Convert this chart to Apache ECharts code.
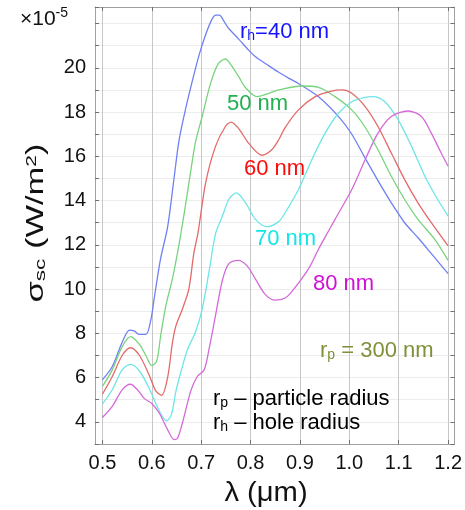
<!DOCTYPE html>
<html><head><meta charset="utf-8">
<script src="https://cdn.jsdelivr.net/npm/echarts@6/dist/echarts.min.js"></script>
<style>html,body{margin:0;padding:0;background:#fff}#c{width:465px;height:510px}</style>
</head><body><div id="c"></div>
<script>
// wavelength (um) and scattering values (x1e-5 W/m^2)
const lam40 = [0.50,0.52,0.54,0.555,0.565,0.575,0.588,0.598,0.605,0.618,0.632,0.645,0.655,0.668,0.682,0.696,0.709,0.722,0.73,0.737,0.745,0.755,0.776,0.796,0.81,0.83,0.857,0.88,0.90,0.94,0.98,1.005,1.03,1.058,1.085,1.112,1.14,1.17,1.20];
const val40 = [5.9,6.5,7.6,8.15,8.1,7.95,7.95,8.6,9.6,11.4,12.8,15.0,16.7,18.1,19.4,20.6,21.5,22.2,22.38,22.38,22.15,21.8,21.3,20.8,20.5,20.2,19.8,19.5,19.25,18.65,17.75,17.0,16.0,14.9,13.9,13.0,12.3,11.5,10.7];
const lam50 = [0.50,0.52,0.54,0.557,0.575,0.588,0.60,0.61,0.618,0.628,0.642,0.655,0.669,0.682,0.689,0.702,0.719,0.735,0.749,0.76,0.776,0.79,0.813,0.837,0.857,0.904,0.9375,0.971,1.005,1.031,1.058,1.085,1.112,1.139,1.173,1.20];
const val50 = [5.6,6.35,7.4,7.85,7.5,7.0,6.55,6.75,7.9,9.2,10.5,12.0,13.9,15.8,16.7,17.8,19.3,20.2,20.4,20.15,19.6,19.1,18.7,18.85,19.0,19.18,19.12,18.7,18.1,17.35,16.3,15.1,14.05,13.15,12.25,11.3];
const lam60 = [0.50,0.52,0.54,0.557,0.575,0.595,0.608,0.62,0.632,0.642,0.649,0.662,0.675,0.685,0.694,0.709,0.729,0.749,0.761,0.776,0.796,0.823,0.843,0.857,0.87,0.897,0.931,0.964,0.985,1.005,1.032,1.058,1.085,1.112,1.139,1.166,1.20];
const val60 = [5.25,6.05,7.0,7.35,7.0,6.1,5.4,5.2,6.0,7.6,8.35,9.1,10.0,11.6,12.6,14.8,16.45,17.35,17.55,17.25,16.6,16.05,16.3,16.75,17.3,18.1,18.7,18.95,19.0,18.85,18.25,17.35,16.15,14.95,13.9,13.0,11.95];
const lam70 = [0.50,0.52,0.54,0.557,0.575,0.595,0.615,0.63,0.64,0.649,0.662,0.672,0.689,0.702,0.716,0.729,0.743,0.756,0.771,0.79,0.81,0.833,0.857,0.87,0.897,0.924,0.951,0.978,1.005,1.032,1.048,1.072,1.099,1.126,1.153,1.179,1.20];
const val70 = [4.8,5.45,6.35,6.6,6.3,5.5,4.5,4.05,4.35,5.4,6.5,7.25,8.1,9.1,10.8,12.5,13.3,14.05,14.35,13.9,13.15,12.82,13.05,13.45,14.5,15.85,17.05,17.95,18.47,18.67,18.7,18.47,17.65,16.45,15.1,14.05,13.3];
const lam80 = [0.50,0.52,0.54,0.557,0.571,0.585,0.60,0.615,0.632,0.645,0.652,0.662,0.679,0.692,0.706,0.716,0.729,0.743,0.756,0.775,0.793,0.81,0.83,0.85,0.87,0.884,0.917,0.9375,0.951,0.971,1.005,1.032,1.058,1.085,1.119,1.146,1.166,1.186,1.20];
const val80 = [4.2,4.7,5.45,5.7,5.45,5.05,4.83,4.4,3.65,3.2,3.25,3.95,5.4,6.05,6.35,7.3,8.8,10.4,11.15,11.3,11.05,10.45,9.75,9.5,9.6,9.9,10.9,11.8,12.35,13.15,14.5,15.85,17.05,17.8,18.05,17.8,17.05,16.15,15.55];
const xTicks = [0.5,0.6,0.7,0.8,0.9,1.0,1.1,1.2];
const xTickLabels = ['0.5','0.6','0.7','0.8','0.9','1.0','1.1','1.2'];
const yLabelValues = [4,6,8,10,12,14,16,18,20];

const FONT = '"Liberation Sans", Arial, sans-serif';
const lineColors = ['#6f80f2','#78d47c','#e36a6a','#6ee6e6','#d46ad8'];
function pairs(xs, ys){ return xs.map((x,i)=>[x, ys[i]]); }
const sets = [[lam40,val40],[lam50,val50],[lam60,val60],[lam70,val70],[lam80,val80]];

const chart = echarts.init(document.getElementById('c'), null, {renderer:'canvas'});
const xCommon = {
  type:'value', min:0.485, max:1.213,
  axisTick:{inside:true, length:4, lineStyle:{color:'#707070'}, customValues:xTicks},
  axisLine:{show:true, lineStyle:{color:'#a0a0a0', width:1}},
};
const yCommon = {
  type:'value', min:3, max:22.75, interval:1,
  axisTick:{inside:true, length:4, lineStyle:{color:'#707070'}},
  axisLine:{show:true, lineStyle:{color:'#a0a0a0', width:1}},
};
function sub(t){ return '{s|'+t+'}'; }
function annot(x, y, text, color, size){
  return {type:'text', left:x, top:y, z:100, style:{
    text:text, fill:color, font: size+'px '+FONT,
    rich:{ s:{fontSize:Math.round(size*0.62), fontFamily:FONT, fill:color, verticalAlign:'bottom', lineHeight:10},
           n:{fontSize:size, fontFamily:FONT, fill:color, lineHeight:size} }
  }};
}
const option = {
  animation:false,
  grid:{left:95, right:8, top:7, bottom:66},
  xAxis:[
    Object.assign({}, xCommon, {position:'bottom',
      axisLabel:{customValues:xTicks, margin:9, color:'#111', fontSize:20, fontFamily:FONT,
        formatter:(v)=>{const i=xTicks.findIndex(t=>Math.abs(t-v)<1e-6); return i>=0?xTickLabels[i]:'';}},
      splitLine:{show:true, lineStyle:{color:'#c6c6c6', width:1}}}),
    Object.assign({}, xCommon, {position:'top', axisLabel:{show:false}, splitLine:{show:false}})
  ],
  yAxis:[
    Object.assign({}, yCommon, {position:'left',
      axisLabel:{margin:9, color:'#111', fontSize:20, fontFamily:FONT,
        formatter:(v)=> yLabelValues.indexOf(Math.round(v))>=0 && Math.abs(v-Math.round(v))<1e-6 ? String(Math.round(v)) : ''},
      splitLine:{show:true, lineStyle:{color:'#ececec', width:1}}}),
    Object.assign({}, yCommon, {position:'right', axisLabel:{show:false}, splitLine:{show:false}})
  ],
  series: sets.map((s,i)=>({type:'line', data:pairs(s[0],s[1]), showSymbol:false, smooth:0.3,
    lineStyle:{color:lineColors[i], width:1.3}, z:10+i})),
  graphic:[
    annot(240, 21, '{n|r}'+sub('h')+'{n|=40 nm}', '#1414ff', 22),
    annot(227, 93, '{n|50 nm}', '#22b050', 22),
    annot(244, 158, '{n|60 nm}', '#ff0a0a', 22),
    annot(255, 228, '{n|70 nm}', '#10e6e6', 22),
    annot(313, 273, '{n|80 nm}', '#d010d8', 22),
    annot(320, 340, '{n|r}'+sub('p')+'{n| = 300 nm}', '#7e9038', 22),
    annot(213, 388, '{n|r}'+sub('p')+'{n| – particle radius}', '#000', 22),
    annot(213, 412, '{n|r}'+sub('h')+'{n| – hole radius}', '#000', 22),
    {type:'text', left:20, top:6, style:{text:'{a|×10}{b|-5}', rich:{a:{fontSize:21, fontFamily:FONT, fill:'#111', lineHeight:24, verticalAlign:'bottom'}, b:{fontSize:14, fontFamily:FONT, fill:'#111', verticalAlign:'top', lineHeight:14}}}},
    {type:'text', x:266, y:494, scaleX:1.08, style:{text:'λ (μm)', font:'27px '+FONT, fill:'#111', align:'center', verticalAlign:'middle'}},
    {type:'text', x:37, y:223, rotation:Math.PI/2, scaleX:1.5, style:{text:'{a|σ}{b|sc}{a| (W/m}{c|2}{a|)}', align:'center', verticalAlign:'middle',
      rich:{a:{fontSize:23, fontFamily:FONT, fill:'#111', lineHeight:23}, b:{fontSize:15, fontFamily:FONT, fill:'#111', verticalAlign:'bottom', lineHeight:11}, c:{fontSize:14, fontFamily:FONT, fill:'#111', verticalAlign:'top', lineHeight:13}}}}
  ]
};
chart.setOption(option);
</script></body></html>
